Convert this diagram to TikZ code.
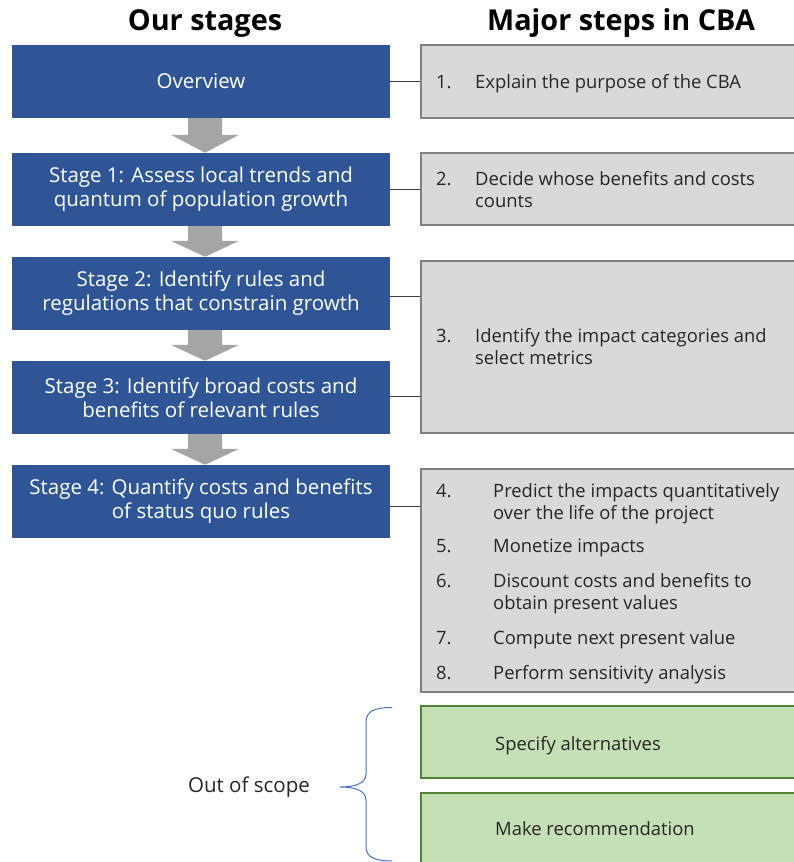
\documentclass[tikz,border=0pt]{standalone}
\usepackage{fontspec}
\setmainfont{Open Sans}
\usetikzlibrary{calc}
\definecolor{stageblue}{HTML}{2F5597}
\definecolor{arrowgray}{HTML}{A5A5A5}
\definecolor{stepfill}{HTML}{D9D9D9}
\definecolor{stepdraw}{HTML}{808080}
\definecolor{greenfill}{HTML}{C5E0B4}
\definecolor{greendraw}{HTML}{548235}
\definecolor{bracecol}{HTML}{4472C4}
\definecolor{textdark}{HTML}{262626}
\newcommand{\blockarrow}[2]{%
  \fill[arrowgray] let \p1=(#1.south), \p2=(#2.north), \n1={\y1+0.48*(\y2-\y1)} in
    (\x1-13pt,\y1) -- (\x1+21pt,\y1) -- (\x1+21pt,\n1) -- (\x1+38pt,\n1)
    -- (\x1+4pt,\y2) -- (\x1-30pt,\n1) -- (\x1-13pt,\n1) -- cycle;}
\begin{document}
\begin{tikzpicture}[x=1pt,y=-1pt,
  stagebox/.style={fill=stageblue, draw=none, minimum width=378pt, minimum height=73pt,
    text=white, align=center, inner sep=0pt, font=\fontsize{20.5}{24}\selectfont},
  stepbox/.style={fill=stepfill, draw=stepdraw, line width=1.5pt, minimum width=376pt, inner sep=0pt},
  greenbox/.style={fill=greenfill, draw=greendraw, line width=1.5pt, minimum width=376pt, inner sep=0pt},
  title/.style={font=\fontsize{28.8}{32}\selectfont\bfseries, anchor=base, inner sep=0pt},
  steptext/.style={font=\fontsize{18.4}{22.5}\selectfont, text=textdark, align=left, anchor=base west, inner sep=0pt},
  conn/.style={draw=black!75, line width=0.9pt},
  bracestyle/.style={draw=bracecol, line width=1pt},
]
\useasboundingbox (0,0) rectangle (794,862);

% titles
\node[title] (t-left) at (205,30) {Our stages};
\node[title] (t-right) at (621,30) {Major steps in CBA};

% stage boxes
\node[stagebox] (ov) at (201,81.5) {Overview};
\node[stagebox] (s1) at (201,189.5) {Stage 1: Assess local trends and\\quantum of population growth};
\node[stagebox] (s2) at (201,293.5) {Stage 2: Identify rules and\\regulations that constrain growth};
\node[stagebox] (s3) at (201,397.5) {Stage 3: Identify broad costs and\\benefits of relevant rules};
\node[stagebox] (s4) at (201,501.5) {Stage 4: Quantify costs and benefits\\of status quo rules};

% block arrows
\blockarrow{ov}{s1}
\blockarrow{s1}{s2}
\blockarrow{s2}{s3}
\blockarrow{s3}{s4}

% step boxes
\node[stepbox, minimum height=73pt] (g1) at (609,81.5) {};
\node[stepbox, minimum height=72pt] (g2) at (609,189) {};
\node[stepbox, minimum height=172pt] (g3) at (609,347) {};
\node[stepbox, minimum height=223pt] (g4) at (609,580.5) {};
\node[greenbox, minimum height=72pt] (gr1) at (609,742) {};
\node[greenbox, minimum height=78pt] (gr2) at (609,832) {};

% connectors
\draw[conn] (ov.east) -- (ov.east -| g1.west);
\draw[conn] (s1.east) -- (s1.east -| g2.west);
\draw[conn] ([yshift=-2.5pt]s2.east) -- ([yshift=-2.5pt]s2.east -| g3.west);
\draw[conn] ([yshift=1.5pt]s3.east) -- ([yshift=1.5pt]s3.east -| g3.west);
\draw[conn] ([yshift=-5pt]s4.east) -- ([yshift=-5pt]s4.east -| g4.west);

% step texts (multi-line nodes are placed by the baseline of their last line)
\node[steptext] (n1) at (436,88) {1.};
\node[steptext] (x1) at (475,88) {Explain the purpose of the CBA};
\node[steptext] (n2) at (436,185) {2.};
\node[steptext] (x2) at (475,207.5) {Decide whose benefits and costs\\counts};
\node[steptext] (n3) at (436,342) {3.};
\node[steptext] (x3) at (475,364.5) {Identify the impact categories and\\select metrics};
\node[steptext] (n4) at (436,497) {4.};
\node[steptext] (x4) at (493,519.5) {Predict the impacts quantitatively\\over the life of the project};
\node[steptext] (n5) at (436,552) {5.};
\node[steptext] (x5) at (493,552) {Monetize impacts};
\node[steptext] (n6) at (436,587) {6.};
\node[steptext] (x6) at (493,609.5) {Discount costs and benefits to\\obtain present values};
\node[steptext] (n7) at (436,644) {7.};
\node[steptext] (x7) at (493,644) {Compute next present value};
\node[steptext] (n8) at (436,679) {8.};
\node[steptext] (x8) at (493,679) {Perform sensitivity analysis};

% out of scope
\node[steptext] (y1) at (495,750) {Specify alternatives};
\node[steptext] (y2) at (495,835) {Make recommendation};
\node[steptext, anchor=base] (oos) at (249,792) {\fontsize{20.5}{24}\selectfont Out of scope};
\coordinate (brtop) at (392,707.5);
\coordinate (brbot) at (392,861);
\coordinate (brtip) at (340,787);
\draw[bracestyle] (brtop) .. controls (375,707.5) and (366,711) .. (366,722)
  -- (366,774) .. controls (366,783) and (356,787) .. (brtip)
  .. controls (356,787) and (366,791) .. (366,800)
  -- (366,847) .. controls (366,857) and (375,861) .. (brbot);
\end{tikzpicture}
\end{document}
